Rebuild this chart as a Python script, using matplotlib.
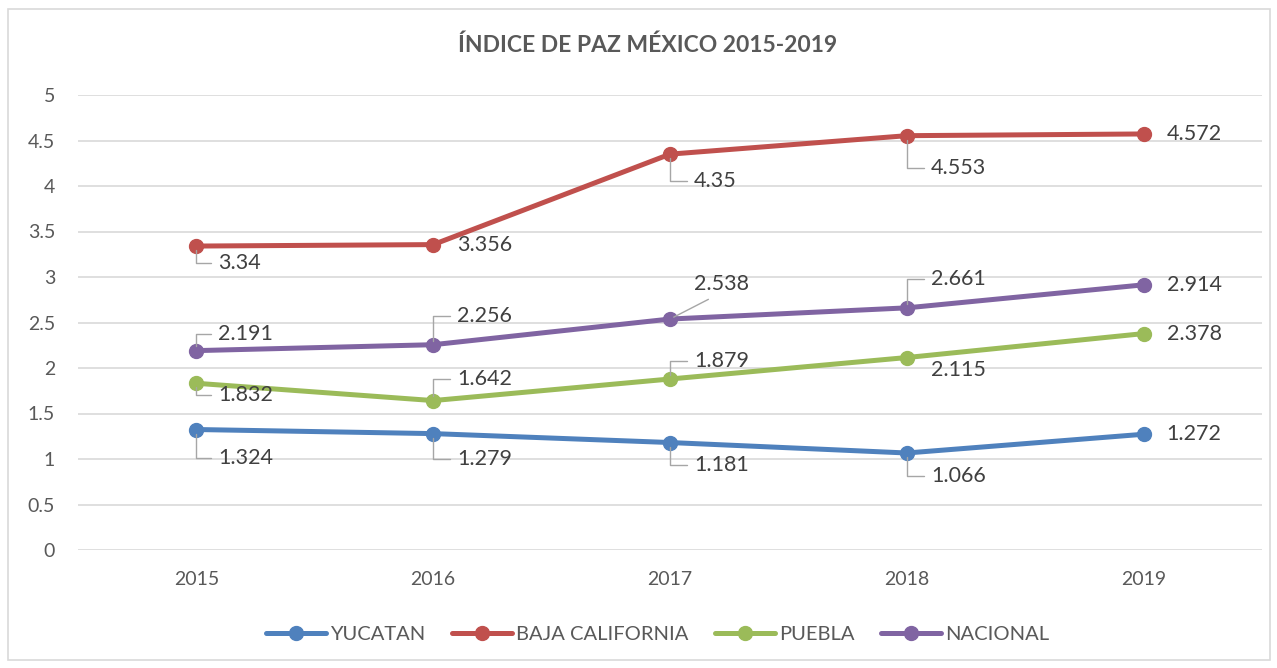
import matplotlib
matplotlib.use('Agg')
import matplotlib.pyplot as plt
from matplotlib.patches import Rectangle

#--------------------------------
years = ['2015', '2016', '2017', '2018', '2019']
yucatan = [1.324, 1.279, 1.181, 1.066, 1.272]
baja = [3.34, 3.356, 4.35, 4.553, 4.572]
puebla = [1.832, 1.642, 1.879, 2.115, 2.378]
nacional = [2.191, 2.256, 2.538, 2.661, 2.914]
names = ['YUCATAN', 'BAJA CALIFORNIA', 'PUEBLA', 'NACIONAL']
title = u'\u00cdNDICE DE PAZ M\u00c9XICO 2015-2019'

#--------------------------------
colors = ['#4f81bd', '#c0504d', '#9bbb59', '#8064a2']
# label offsets (pixels) and leader style per point: 'e' elbow, 'd' diagonal, '' none
offs = [[(22, -28), (24, -25), (24, -22), (24, -23), (23, 0)],
        [(22, -17), (24, 0), (24, -27), (24, -32), (23, 0)],
        [(22, -12), (24, 22), (24, 18), (24, -12), (23, 0)],
        [(22, 17), (24, 29), (24, 35), (24, 29), (23, 0)]]
leads = [['e', 'e', 'e', 'e', ''],
         ['e', '', 'e', 'e', ''],
         ['e', 'e', 'e', '', ''],
         ['e', 'e', 'd', 'e', '']]

plt.rcParams['font.family'] = ['Lato', 'DejaVu Sans']

def main() :
    fig = plt.figure(figsize=(12.77, 6.68), dpi=100, facecolor='w')
    fig.patches.append(Rectangle((8/1277., 8/668.), 1262/1277., 651/668., transform=fig.transFigure,
                                 fill=False, edgecolor='#d9d9d9', linewidth=1.2))
    ax = fig.add_axes([78/1277., 118/668., 1184/1277., 455/668.])

    series = [yucatan, baja, puebla, nacional]
    x = range(len(years))
    for i, vals in enumerate(series) :
        ax.plot(x, vals, color=colors[i], lw=3.6, marker='o', ms=10, label=names[i],
                solid_capstyle='round', zorder=3)
        for j, v in enumerate(vals) :
            dx, dy = offs[i][j]
            ap = None
            if leads[i][j] == 'e' :
                ap = dict(arrowstyle='-', color='#a6a6a6', lw=1.0, shrinkA=3, shrinkB=3,
                          relpos=(0, 0.5), connectionstyle='angle,angleA=180,angleB=90,rad=0')
            elif leads[i][j] == 'd' :
                ap = dict(arrowstyle='-', color='#a6a6a6', lw=1.0, shrinkA=4, shrinkB=3,
                          relpos=(0.45, 0))
            ax.annotate(str(v), (j, v), xytext=(dx, dy), textcoords='offset pixels',
                        ha='left', va='center', fontsize=15.5, color='#404040',
                        arrowprops=ap, zorder=4)

    ax.set_xlim(-0.5, 4.5)
    ax.set_ylim(0, 5)
    ax.set_yticks([0, 0.5, 1, 1.5, 2, 2.5, 3, 3.5, 4, 4.5, 5])
    ax.set_yticklabels(['0', '0.5', '1', '1.5', '2', '2.5', '3', '3.5', '4', '4.5', '5'])
    ax.set_xticks(list(x))
    ax.set_xticklabels(years)
    ax.grid(axis='y', color='#d9d9d9', lw=1.2)
    ax.set_axisbelow(True)
    for s in ax.spines.values() :
        s.set_visible(False)
    ax.tick_params(length=0, labelsize=14, colors='#595959')
    ax.tick_params(axis='y', pad=16.5)
    ax.tick_params(axis='x', pad=15)

    fig.text(0.507, 0.933, title, ha='center', va='center', fontsize=16.5,
             fontweight='bold', color='#595959')
    fig.legend(loc='center', bbox_to_anchor=(0.515, 0.05), ncol=4, frameon=False,
               fontsize=14.5, labelcolor='#595959', handlelength=3.0, handletextpad=0.2,
               columnspacing=1.3)
    fig.savefig('out.png', dpi=100)

if __name__ == "__main__" :
    main()
